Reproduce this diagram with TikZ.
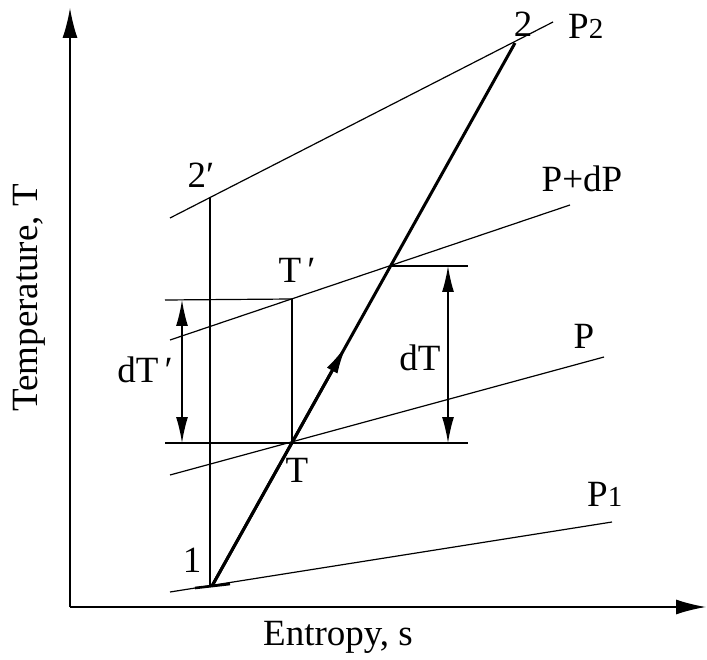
\documentclass[tikz,border=0pt]{standalone}
\usepackage{fontspec}
\setmainfont{Liberation Serif}
\usetikzlibrary{arrows.meta,calc}
\begin{document}
\begin{tikzpicture}[x=1pt,y=-1pt,
  thin line/.style={line width=1.2pt},
  thick line/.style={line width=3pt},
  axis/.style={line width=1.6pt,-{Latex[length=30pt,width=15pt]}},
  dim/.style={line width=1.4pt,{Latex[length=26pt,width=12pt]}-{Latex[length=26pt,width=12pt]}},
  lbl/.style={font=\fontsize{37}{42}\selectfont, inner sep=0pt}]
\useasboundingbox (0,0) rectangle (707,660);
% axes
\coordinate (O) at (70,607);
\coordinate (Ytop) at (70,8);
\coordinate (Xend) at (706,607);
\draw[axis] (O) -- (Ytop);
\draw[axis] (O) -- (Xend);
% isobars
\coordinate (P1a) at (170,592); \coordinate (P1b) at (612,522);
\coordinate (Pa) at (170,475);  \coordinate (Pb) at (604,357);
\coordinate (PdPa) at (170,340); \coordinate (PdPb) at (570,205);
\coordinate (P2a) at (170,218); \coordinate (P2b) at (553,22);
\draw[thin line] (P1a) -- (P1b);
\draw[thin line] (Pa) -- (Pb);
\draw[thin line] (PdPa) -- (PdPb);
\draw[thin line] (P2a) -- (P2b);
% process points
\coordinate (one) at (212,586);
\coordinate (two) at (515,43);
\coordinate (Tpt) at (292,443);
\coordinate (Tp) at (292,299);
\coordinate (X) at (391,266);
\coordinate (twop) at (210,198);
\coordinate (onev) at (210,586);
% thick compression line with mid arrow
\draw[thick line] (one) -- (two);
\draw[thick line,-{Latex[length=30pt,width=12pt]}] (one) -- ($(one)!0.445!(two)$);
\draw[line width=2.6pt] (195,588) -- (230,584);
% verticals and horizontals
\draw[thin line] (twop) -- (onev);
\draw[thin line] (Tp) -- (Tpt);
\coordinate (hTl) at (165,443); \coordinate (hTr) at (468,443);
\coordinate (hTpl) at (165,300);
\coordinate (hXr) at (468,266);
\draw[thin line] (hTl) -- (hTr);
\draw[thin line] (hTpl) -- (Tp);
\draw[thin line] (X) -- (hXr);
% dimension arrows
\coordinate (dTpa) at (182,300); \coordinate (dTpb) at (182,443);
\coordinate (dTa) at (448,266); \coordinate (dTb) at (448,443);
\draw[dim] (dTpa) -- (dTpb);
\draw[dim] (dTa) -- (dTb);
% labels
\node[lbl] (l2p) at (201,175) {2′};
\node[lbl] (lTp) at (297,270) {T\,′};
\node[lbl] (ldTp) at (145,370) {dT\,′};
\node[lbl] (ldT) at (420,358) {dT};
\node[lbl] (lT) at (297,470) {T};
\node[lbl] (l1) at (192,560) {1};
\node[lbl] (l2) at (523,24) {2};
\node[lbl,anchor=west] (lP2) at (568,26) {P{\fontsize{29}{30}\selectfont 2}};
\node[lbl] (lPdP) at (582,179) {P+dP};
\node[lbl] (lP) at (584,336) {P};
\node[lbl,anchor=west] (lP1) at (587,494) {P{\fontsize{29}{30}\selectfont 1}};
\node[lbl] (lx) at (338,637) {Entropy, s};
\node[lbl,rotate=90] (ly) at (29,298) {Temperature, T};
\end{tikzpicture}
\end{document}
